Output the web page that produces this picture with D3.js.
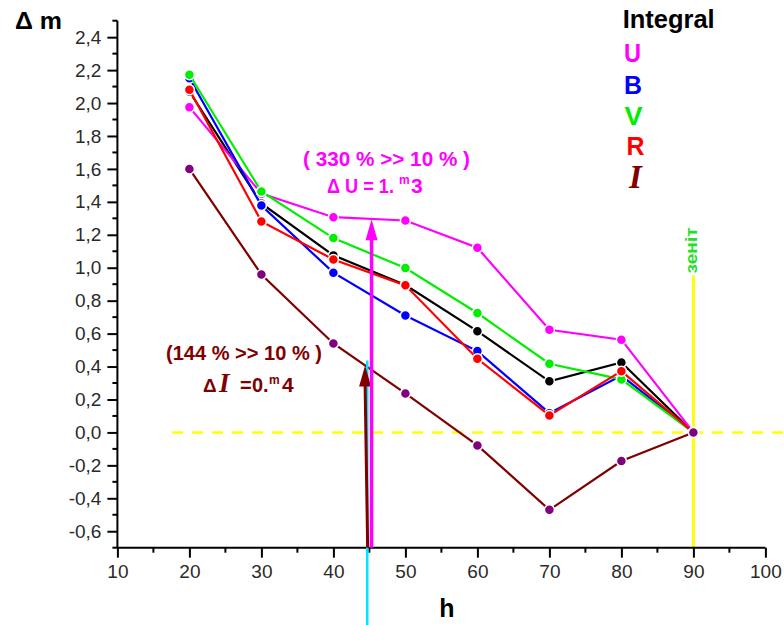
<!DOCTYPE html>
<html>
<head>
<meta charset="utf-8">
<script src="https://cdn.jsdelivr.net/npm/d3@7"></script>
<style>
  body { margin: 0; background: #fff; }
  svg { display: block; }
  .lbl { font-family: "Liberation Sans", Arial, sans-serif; font-weight: bold; }
</style>
</head>
<body>
<svg id="chart"></svg>
<script>
const width = 784;
const height = 625;
const margin = { top: 20.7, right: 18.6, bottom: 77.3, left: 117.4 };

// data
const hVals = [20, 30, 40, 50, 60, 70, 80, 90];
const integralVals = [2.07, 1.39, 1.075, 0.895, 0.615, 0.31, 0.425, 0.0];
const uVals = [1.975, 1.45, 1.307, 1.287, 1.121, 0.623, 0.563, 0.0];
const bVals = [2.151, 1.378, 0.97, 0.71, 0.494, 0.117, 0.345, 0.0];
const vVals = [2.172, 1.463, 1.18, 0.998, 0.725, 0.417, 0.322, 0.0];
const rVals = [2.081, 1.281, 1.05, 0.893, 0.447, 0.103, 0.372, 0.0];
const iVals = [1.60, 0.959, 0.54, 0.237, -0.079, -0.47, -0.174, 0.0];

const xTicks = d3.range(10, 101, 10);
const yTicks = d3.range(-6, 25, 2).map(d => d / 10);

// annotation lines (data units)
const zenithH = 90, zenithTop = 0.953;
const uArrow = { h: 45.3, top: 1.295 };
const iArrow = { h0: 44.76, h1: 44.4, top: 0.407 };
const cyanLine = { h: 44.7, top: 0.437, bottom: -1.2 };

const svg = d3.select("#chart").attr("width", width).attr("height", height);

const x = d3.scaleLinear().domain([10, 100]).range([margin.left, width - margin.right]);
const y = d3.scaleLinear().domain([-0.7, 2.5]).range([height - margin.bottom, margin.top]);

// zero line and zenith
svg.append("line")
  .attr("x1", x(17.6)).attr("x2", x(102.5))
  .attr("y1", y(0)).attr("y2", y(0))
  .attr("stroke", "#ffff00").attr("stroke-width", 2.5)
  .attr("stroke-dasharray", "11,9");
svg.append("line")
  .attr("x1", x(zenithH)).attr("x2", x(zenithH))
  .attr("y1", y(zenithTop)).attr("y2", y(-0.7))
  .attr("stroke", "#ffff00").attr("stroke-width", 3);
svg.append("text").attr("class", "lbl")
  .attr("transform", `translate(${x(zenithH) + 4},${y(zenithTop) - 2}) rotate(-90)`)
  .attr("fill", "#22e022").attr("font-size", 17)
  .attr("textLength", 46).attr("lengthAdjust", "spacingAndGlyphs")
  .text("зеніт");

// axes
const yAxis = d3.axisLeft(y).tickValues(yTicks).tickSize(10).tickPadding(6)
  .tickFormat(d => d3.format(".1f")(d).replace(".", ",").replace("−", "-"));
const xAxis = d3.axisBottom(x).tickValues(xTicks).tickSize(10).tickPadding(7)
  .tickFormat(d3.format("d"));

const gy = svg.append("g").attr("transform", `translate(${margin.left},0)`).call(yAxis);
const gx = svg.append("g").attr("transform", `translate(0,${height - margin.bottom})`).call(xAxis);

// minor ticks
const yMinor = d3.range(-7, 26, 2).map(d => d / 10);
gy.selectAll(".minor").data(yMinor).enter().append("line")
  .attr("x1", -5).attr("x2", 0).attr("y1", d => y(d)).attr("y2", d => y(d))
  .attr("stroke", "#000").attr("stroke-width", 2);
const xMinor = d3.range(15, 100, 10);
gx.selectAll(".minor").data(xMinor).enter().append("line")
  .attr("y1", 0).attr("y2", 5).attr("x1", d => x(d)).attr("x2", d => x(d))
  .attr("stroke", "#000").attr("stroke-width", 2);

[gx, gy].forEach(g => {
  g.attr("font-size", 19).attr("font-family", "'Liberation Sans', Arial, sans-serif");
  g.selectAll(".tick text").attr("fill", "#2a2a2a");
  g.select(".domain").attr("stroke", "#000").attr("stroke-width", 2);
  g.selectAll(".tick line").attr("stroke", "#000").attr("stroke-width", 2);
});
gy.select(".domain").attr("d", `M0,${y(2.5)}V${y(-0.7)}`);
gx.select(".domain").attr("d", `M${x(10)},0H${x(100)}`);

// series
const series = [
  { vals: integralVals, line: "#000000", dot: "#000000" },
  { vals: uVals, line: "#ff00ff", dot: "#ff00ff" },
  { vals: bVals, line: "#0000ff", dot: "#0000ff" },
  { vals: vVals, line: "#00ee00", dot: "#00ee00" },
  { vals: rVals, line: "#ff0000", dot: "#ff0000" },
  { vals: iVals, line: "#800000", dot: "#800080" }
];

const line = d3.line().x(d => x(d[0])).y(d => y(d[1]));

series.forEach(s => {
  const pts = hVals.map((h, i) => [h, s.vals[i]]);
  const g = svg.append("g");
  g.append("path").datum(pts)
    .attr("d", line).attr("fill", "none")
    .attr("stroke", s.line).attr("stroke-width", 2.2);
  g.selectAll("circle").data(pts).enter().append("circle")
    .attr("cx", d => x(d[0])).attr("cy", d => y(d[1])).attr("r", 5)
    .attr("fill", s.dot).attr("stroke", "#fff").attr("stroke-width", 1.5);
});

// arrows
svg.append("line")
  .attr("x1", x(cyanLine.h)).attr("x2", x(cyanLine.h))
  .attr("y1", y(cyanLine.top)).attr("y2", y(cyanLine.bottom))
  .attr("stroke", "#00e5ff").attr("stroke-width", 2.5);

function arrow(hBottom, hTop, top, color, w) {
  const xb = x(hBottom), xt = x(hTop), yt = y(top);
  svg.append("line")
    .attr("x1", xb).attr("x2", xt).attr("y1", y(-0.7)).attr("y2", yt + 18)
    .attr("stroke", color).attr("stroke-width", w);
  svg.append("path")
    .attr("d", `M${xt},${yt}L${xt - 6},${yt + 21}L${xt + 6},${yt + 21}Z`)
    .attr("fill", color);
}
arrow(iArrow.h0, iArrow.h1, iArrow.top, "#800000", 3);
arrow(uArrow.h, uArrow.h, uArrow.top, "#ff00ff", 3.5);

// axis titles
svg.append("text").attr("class", "lbl").attr("x", 15).attr("y", 29)
  .attr("font-size", 24).attr("fill", "#000")
  .attr("textLength", 47).attr("lengthAdjust", "spacingAndGlyphs")
  .text("Δ m");
svg.append("text").attr("class", "lbl").attr("x", 447).attr("y", 617)
  .attr("text-anchor", "middle").attr("font-size", 25).attr("fill", "#000")
  .text("h");

// legend
const legendItems = [
  { label: "Integral", color: "#000000", x: 622.7, y: 28, len: 92 },
  { label: "U", color: "#ff00ff", x: 624, y: 62, len: 17 },
  { label: "B", color: "#0000ff", x: 624, y: 94, len: 18 },
  { label: "V", color: "#00ee00", x: 624.5, y: 125, len: 18 },
  { label: "R", color: "#ff0000", x: 626.5, y: 155, len: 18 }
];
legendItems.forEach(d => {
  svg.append("text").attr("class", "lbl").attr("x", d.x).attr("y", d.y)
    .attr("font-size", 26).attr("fill", d.color)
    .attr("textLength", d.len).attr("lengthAdjust", "spacingAndGlyphs")
    .text(d.label);
});
svg.append("text").attr("x", 629).attr("y", 188)
  .attr("font-family", "'Liberation Serif', 'Times New Roman', serif")
  .attr("font-weight", "bold").attr("font-style", "italic")
  .attr("font-size", 33).attr("fill", "#800000").text("I");

// annotations
const uColor = "#ff00ff", iColor = "#800000";
svg.append("text").attr("class", "lbl").attr("x", 303).attr("y", 166)
  .attr("font-size", 20).attr("fill", uColor)
  .attr("textLength", 167).attr("lengthAdjust", "spacingAndGlyphs")
  .text("( 330 %  >> 10 % )");
svg.append("text").attr("class", "lbl").attr("x", 327).attr("y", 193)
  .attr("font-size", 20).attr("fill", uColor)
  .attr("textLength", 67).attr("lengthAdjust", "spacingAndGlyphs")
  .text("Δ U = 1.");
svg.append("text").attr("class", "lbl").attr("x", 399).attr("y", 184)
  .attr("font-size", 12).attr("fill", uColor).text("m");
svg.append("text").attr("class", "lbl").attr("x", 411).attr("y", 193)
  .attr("font-size", 21).attr("fill", uColor).text("3");

svg.append("text").attr("class", "lbl").attr("x", 166).attr("y", 360)
  .attr("font-size", 20).attr("fill", iColor)
  .attr("textLength", 156).attr("lengthAdjust", "spacingAndGlyphs")
  .text("(144 % >> 10 % )");
svg.append("text").attr("class", "lbl").attr("x", 203).attr("y", 392)
  .attr("font-size", 19).attr("fill", iColor).text("Δ");
svg.append("text").attr("x", 219).attr("y", 392)
  .attr("font-family", "'Liberation Serif', 'Times New Roman', serif")
  .attr("font-weight", "bold").attr("font-style", "italic")
  .attr("font-size", 27).attr("fill", iColor).text("I");
svg.append("text").attr("class", "lbl").attr("x", 240).attr("y", 392)
  .attr("font-size", 20).attr("fill", iColor).text("=");
svg.append("text").attr("class", "lbl").attr("x", 252).attr("y", 392)
  .attr("font-size", 20).attr("fill", iColor).text("0.");
svg.append("text").attr("class", "lbl").attr("x", 269).attr("y", 384)
  .attr("font-size", 12).attr("fill", iColor).text("m");
svg.append("text").attr("class", "lbl").attr("x", 282).attr("y", 392)
  .attr("font-size", 21).attr("fill", iColor).text("4");
</script>
</body>
</html>
